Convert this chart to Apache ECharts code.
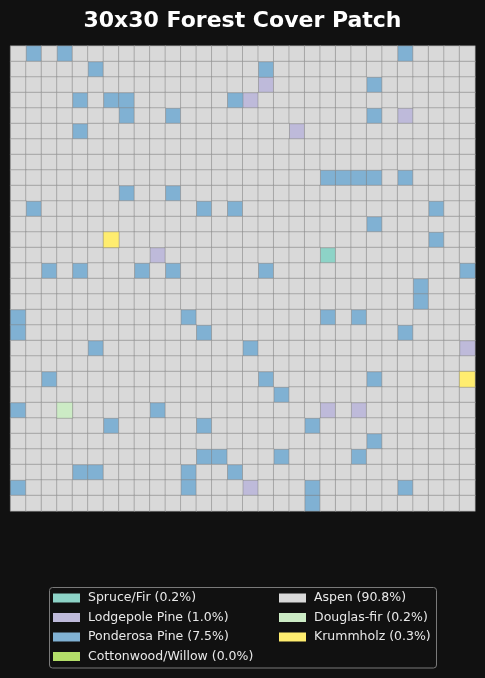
<!DOCTYPE html>
<html><head><meta charset="utf-8">
<script src="https://cdn.jsdelivr.net/npm/echarts@6/dist/echarts.min.js"></script>
<style>html,body{margin:0;padding:0;background:#111111;}#chart{width:485px;height:678px;}</style>
</head><body><div id="chart"></div>
<script>
const chartTitle = '30x30 Forest Cover Patch';
const categories = ['Spruce/Fir', 'Lodgepole Pine', 'Ponderosa Pine', 'Cottonwood/Willow', 'Aspen', 'Douglas-fir', 'Krummholz'];
const codes = ['S', 'L', 'P', 'C', '.', 'D', 'K'];
const percents = [0.2, 1.0, 7.5, 0.0, 90.8, 0.2, 0.3];
// 30 rows (top to bottom) x 30 columns (left to right); one code per cell
const gridRows = [
  '.P.P.' + '.....' + '.....' + '.....' + '.....' + 'P....',
  '.....' + 'P....' + '.....' + '.P...' + '.....' + '.....',
  '.....' + '.....' + '.....' + '.L...' + '...P.' + '.....',
  '....P' + '.PP..' + '....P' + 'L....' + '.....' + '.....',
  '.....' + '..P..' + 'P....' + '.....' + '...P.' + 'L....',
  '....P' + '.....' + '.....' + '...L.' + '.....' + '.....',
  '.....' + '.....' + '.....' + '.....' + '.....' + '.....',
  '.....' + '.....' + '.....' + '.....' + '.....' + '.....',
  '.....' + '.....' + '.....' + '.....' + 'PPPP.' + 'P....',
  '.....' + '..P..' + 'P....' + '.....' + '.....' + '.....',
  '.P...' + '.....' + '..P.P' + '.....' + '.....' + '..P..',
  '.....' + '.....' + '.....' + '.....' + '...P.' + '.....',
  '.....' + '.K...' + '.....' + '.....' + '.....' + '..P..',
  '.....' + '....L' + '.....' + '.....' + 'S....' + '.....',
  '..P.P' + '...P.' + 'P....' + '.P...' + '.....' + '....P',
  '.....' + '.....' + '.....' + '.....' + '.....' + '.P...',
  '.....' + '.....' + '.....' + '.....' + '.....' + '.P...',
  'P....' + '.....' + '.P...' + '.....' + 'P.P..' + '.....',
  'P....' + '.....' + '..P..' + '.....' + '.....' + 'P....',
  '.....' + 'P....' + '.....' + 'P....' + '.....' + '....L',
  '.....' + '.....' + '.....' + '.....' + '.....' + '.....',
  '..P..' + '.....' + '.....' + '.P...' + '...P.' + '....K',
  '.....' + '.....' + '.....' + '..P..' + '.....' + '.....',
  'P..D.' + '....P' + '.....' + '.....' + 'L.L..' + '.....',
  '.....' + '.P...' + '..P..' + '....P' + '.....' + '.....',
  '.....' + '.....' + '.....' + '.....' + '...P.' + '.....',
  '.....' + '.....' + '..PP.' + '..P..' + '..P..' + '.....',
  '....P' + 'P....' + '.P..P' + '.....' + '.....' + '.....',
  'P....' + '.....' + '.P...' + 'L...P' + '.....' + 'P....',
  '.....' + '.....' + '.....' + '....P' + '.....' + '.....'
];
const palette = ['#8dd3c7', '#bebada', '#80b1d3', '#b3de69', '#d9d9d9', '#ccebc5', '#ffed6f'];

const colLabels = gridRows[0].split('').map((_, i) => String(i));
const rowLabels = gridRows.map((_, i) => String(i));

const series = categories.map((name, k) => {
  const data = [];
  gridRows.forEach((row, r) => {
    row.split('').forEach((ch, c) => { if (ch === codes[k]) data.push([c, r, k]); });
  });
  return {
    name: name,
    type: 'heatmap',
    data: data,
    itemStyle: { color: palette[k], borderColor: '#808080', borderWidth: 0.5 },
    emphasis: { disabled: true },
    silent: true
  };
});

const legendFmt = name => name + ' (' + percents[categories.indexOf(name)].toFixed(1) + '%)';
const legendBase = {
  orient: 'vertical',
  top: 591,
  padding: 0,
  itemWidth: 27,
  itemHeight: 9,
  itemGap: 5.5,
  selectedMode: false,
  icon: 'rect',
  itemStyle: { borderWidth: 0 },
  formatter: legendFmt,
  textStyle: { color: '#e8e8e8', fontFamily: 'DejaVu Sans', fontSize: 12.5, lineHeight: 14, padding: [0, 0, 0, 3] }
};

const chart = echarts.init(document.getElementById('chart'), null, { renderer: 'canvas' });
chart.setOption({
  backgroundColor: '#111111',
  animation: false,
  title: {
    text: chartTitle,
    left: 'center',
    top: 5,
    textStyle: { color: '#ffffff', fontFamily: 'DejaVu Sans', fontWeight: 'bold', fontSize: 22 }
  },
  grid: { left: 10.5, top: 46, width: 464.5, height: 465, containLabel: false },
  xAxis: { type: 'category', data: colLabels, show: false },
  yAxis: { type: 'category', data: rowLabels, inverse: true, show: false },
  legend: [
    Object.assign({}, legendBase, { left: 53, data: categories.slice(0, 4) }),
    Object.assign({}, legendBase, { left: 279, data: categories.slice(4) })
  ],
  graphic: [{
    type: 'rect',
    shape: { x: 49.5, y: 587.5, width: 387, height: 80.5, r: 3 },
    style: { fill: 'transparent', stroke: '#7a7a7a', lineWidth: 1 },
    silent: true,
    z: -1
  }],
  series: series
});
</script>
</body></html>
